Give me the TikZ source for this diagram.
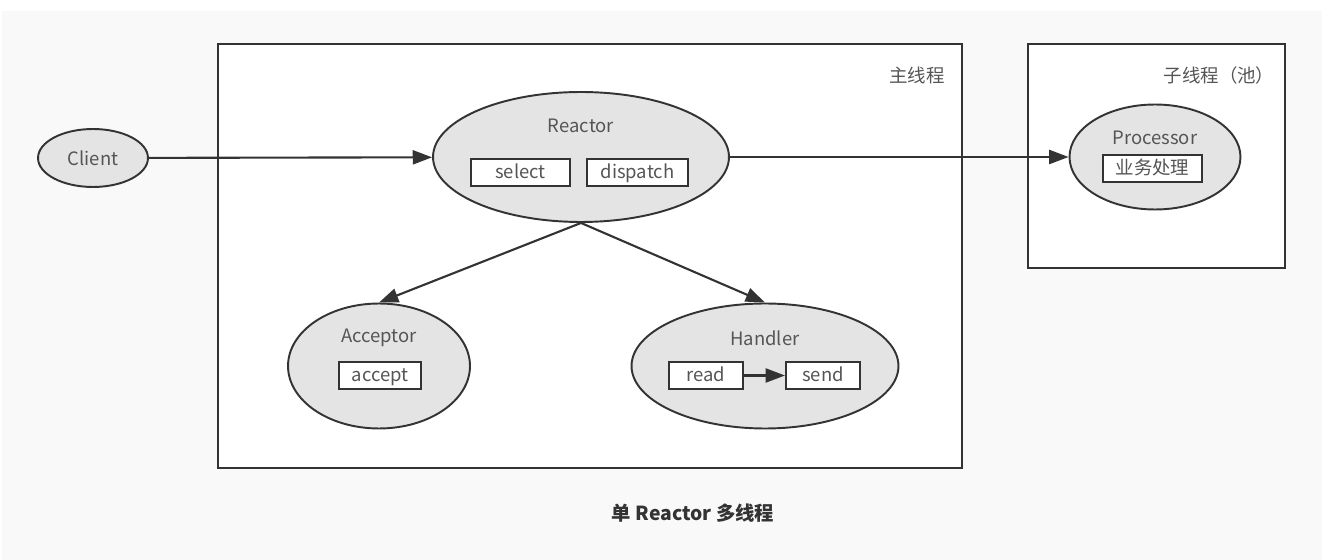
\documentclass[tikz,border=0pt]{standalone}
\usepackage{fontspec}
\setmainfont{Noto Sans CJK SC}
\usetikzlibrary{arrows.meta,shapes}
\definecolor{pagegray}{HTML}{F9F9F9}
\definecolor{linegray}{HTML}{333333}
\definecolor{fillgray}{HTML}{E4E4E4}
\definecolor{textgray}{HTML}{555555}
\tikzstyle{threadbox} = [rectangle, draw=linegray, fill=white, line width=1.2pt]
\tikzstyle{actor} = [ellipse, draw=linegray, fill=fillgray, line width=1.1pt, inner sep=0pt]
\tikzstyle{title} = [text=textgray, font=\fontsize{10.5}{12}\selectfont]
\tikzstyle{opbox} = [rectangle, draw=linegray, fill=white, line width=1.2pt, text=textgray, minimum height=0.54cm, inner sep=0pt, text height=8.6pt, text depth=1.4pt, font=\fontsize{10.5}{12}\selectfont]
\tikzstyle{flow} = [->, draw=linegray, line width=1.2pt]

\begin{document}
\begin{tikzpicture}[x=0.02cm, y=-0.02cm, >={Triangle[length=11pt, width=8pt]}]
   % page
   \useasboundingbox (0,0) rectangle (1322,560);
   \fill[white] (0,0) rectangle (1322,560);
   \fill[pagegray] (2,11) rectangle (1322,560);

   % threads
   \node[threadbox, minimum width=14.88cm, minimum height=8.48cm] (mainthread) at (590,256) {};
   \node[threadbox, minimum width=5.14cm, minimum height=4.48cm] (subthread) at (1156.5,156) {};
   \node[title] (maintitle) at (917,75) {主线程};
   \node[title] (subtitle) at (1219,75) {子线程（池）};

   % actors
   \node[actor, minimum width=2.2cm, minimum height=1.16cm, text=textgray, font=\fontsize{10.5}{12}\selectfont] (client) at (93,158) {Client};
   \node[actor, minimum width=5.92cm, minimum height=2.6cm] (reactor) at (581,157) {};
   \node[actor, minimum width=3.42cm, minimum height=2.1cm] (processor) at (1155,157) {};
   \node[actor, minimum width=3.64cm, minimum height=2.5cm] (acceptor) at (379,366) {};
   \node[actor, minimum width=5.34cm, minimum height=2.5cm] (handler) at (765,366) {};

   \node[title] (reactortitle) at (581,126) {Reactor};
   \node[title] (processortitle) at (1155,138) {Processor};
   \node[title] (acceptortitle) at (379,338) {Acceptor};
   \node[title] (handlertitle) at (765,338) {Handler};

   % operations
   \node[opbox, minimum width=1.98cm] (select) at (520.5,172.5) {select};
   \node[opbox, minimum width=2.02cm] (dispatch) at (637.5,172.5) {dispatch};
   \node[opbox, minimum width=1.98cm] (business) at (1152.5,168.5) {业务处理};
   \node[opbox, minimum width=1.64cm] (accept) at (380,375.5) {accept};
   \node[opbox, minimum width=1.48cm] (read) at (706,375.5) {read};
   \node[opbox, minimum width=1.48cm] (send) at (823,375.5) {send};

   % edges
   \draw[flow] (client) -- (reactor);
   \draw[flow] (reactor) -- (processor);
   \draw[flow] (reactor.south) -- (acceptor.north);
   \draw[flow] (reactor.south) -- (handler.north);
   \draw[flow] (read) -- (send);

   % caption
   \node[text=linegray, font=\fontsize{11}{13}\selectfont\bfseries] (caption) at (693,513) {单 Reactor 多线程};
\end{tikzpicture}
\end{document}
